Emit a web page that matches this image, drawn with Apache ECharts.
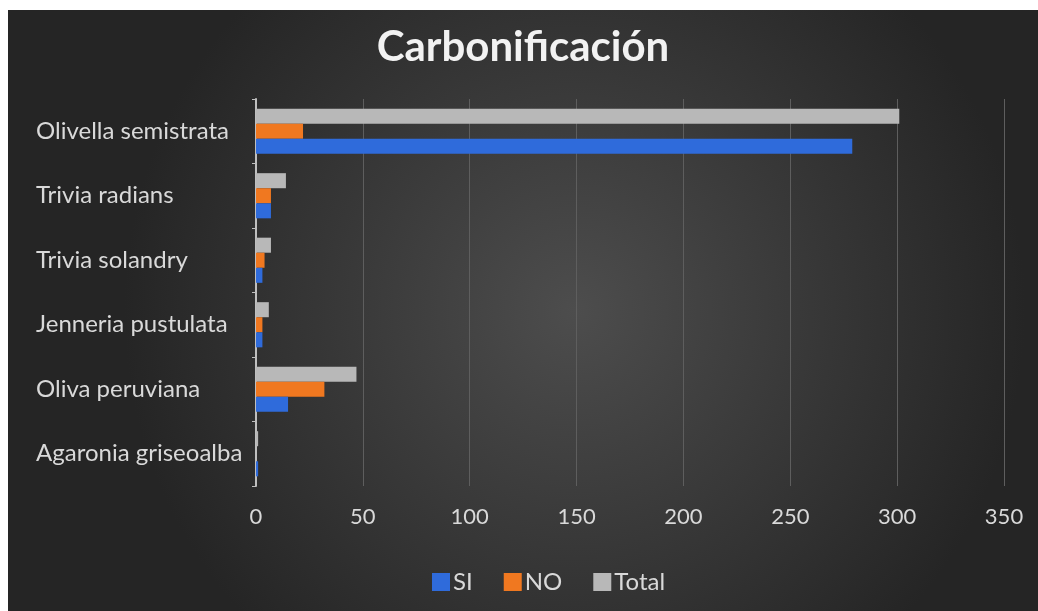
<!DOCTYPE html>
<html>
<head>
<meta charset="utf-8">
<script src="https://cdn.jsdelivr.net/npm/echarts@6/dist/echarts.min.js"></script>
<style>
  html, body { margin: 0; padding: 0; background: #fff; }
  #chart { position: absolute; left: 8px; top: 10px; width: 1030px; height: 601px; }
</style>
</head>
<body>
<div id="chart"></div>
<script>
// datos (de abajo hacia arriba)
const categories = ['Agaronia griseoalba', 'Oliva peruviana', 'Jenneria pustulata', 'Trivia solandry', 'Trivia radians', 'Olivella semistrata'];
const siValues = [1, 15, 3, 3, 7, 279];
const noValues = [0, 32, 3, 4, 7, 22];
const totalValues = [1, 47, 6, 7, 14, 301];
const xTicks = [0, 50, 100, 150, 200, 250, 300, 350];

const font = 'Lato, "Open Sans", sans-serif';

const chart = echarts.init(document.getElementById('chart'));

chart.setOption({
  backgroundColor: {
    type: 'radial', x: 0.55, y: 0.5, r: 0.75,
    colorStops: [
      { offset: 0, color: '#4d4d4d' },
      { offset: 1, color: '#252525' }
    ]
  },
  animation: false,
  title: {
    text: 'Carbonificación',
    left: 'center',
    top: 11,
    textStyle: { color: '#f2f2f2', fontSize: 42, fontWeight: 'bold', fontFamily: font }
  },
  legend: {
    top: 555,
    left: 419,
    itemWidth: 18,
    itemHeight: 18,
    itemGap: 31,
    icon: 'rect',
    textStyle: { color: '#d9d9d9', fontSize: 24, fontFamily: font, padding: [0, 0, 0, -2] },
    data: ['SI', 'NO', 'Total']
  },
  grid: { left: 248, right: 34, top: 89, bottom: 125 },
  xAxis: {
    type: 'value',
    min: xTicks[0],
    max: xTicks[xTicks.length - 1],
    interval: 50,
    axisLine: { show: false },
    axisTick: { show: false },
    splitLine: { lineStyle: { color: '#5e5e5e', width: 1 } },
    axisLabel: { color: '#d9d9d9', fontSize: 22, fontFamily: font, margin: 20 }
  },
  yAxis: {
    type: 'category',
    data: categories,
    axisLine: { lineStyle: { color: '#bfbfbf', width: 2 } },
    axisTick: { show: true, length: 4, lineStyle: { color: '#bfbfbf' } },
    axisLabel: { color: '#d9d9d9', fontSize: 24, fontFamily: font, margin: 220, align: 'left' }
  },
  // el primer series queda arriba en cada grupo: Total, NO, SI
  series: [
    { name: 'Total', type: 'bar', data: totalValues, itemStyle: { color: '#b8b8b8' }, barGap: '0%', barCategoryGap: '30%' },
    { name: 'NO', type: 'bar', data: noValues, itemStyle: { color: '#f07820' } },
    { name: 'SI', type: 'bar', data: siValues, itemStyle: { color: '#2f6bdb' } }
  ]
});
</script>
</body>
</html>
